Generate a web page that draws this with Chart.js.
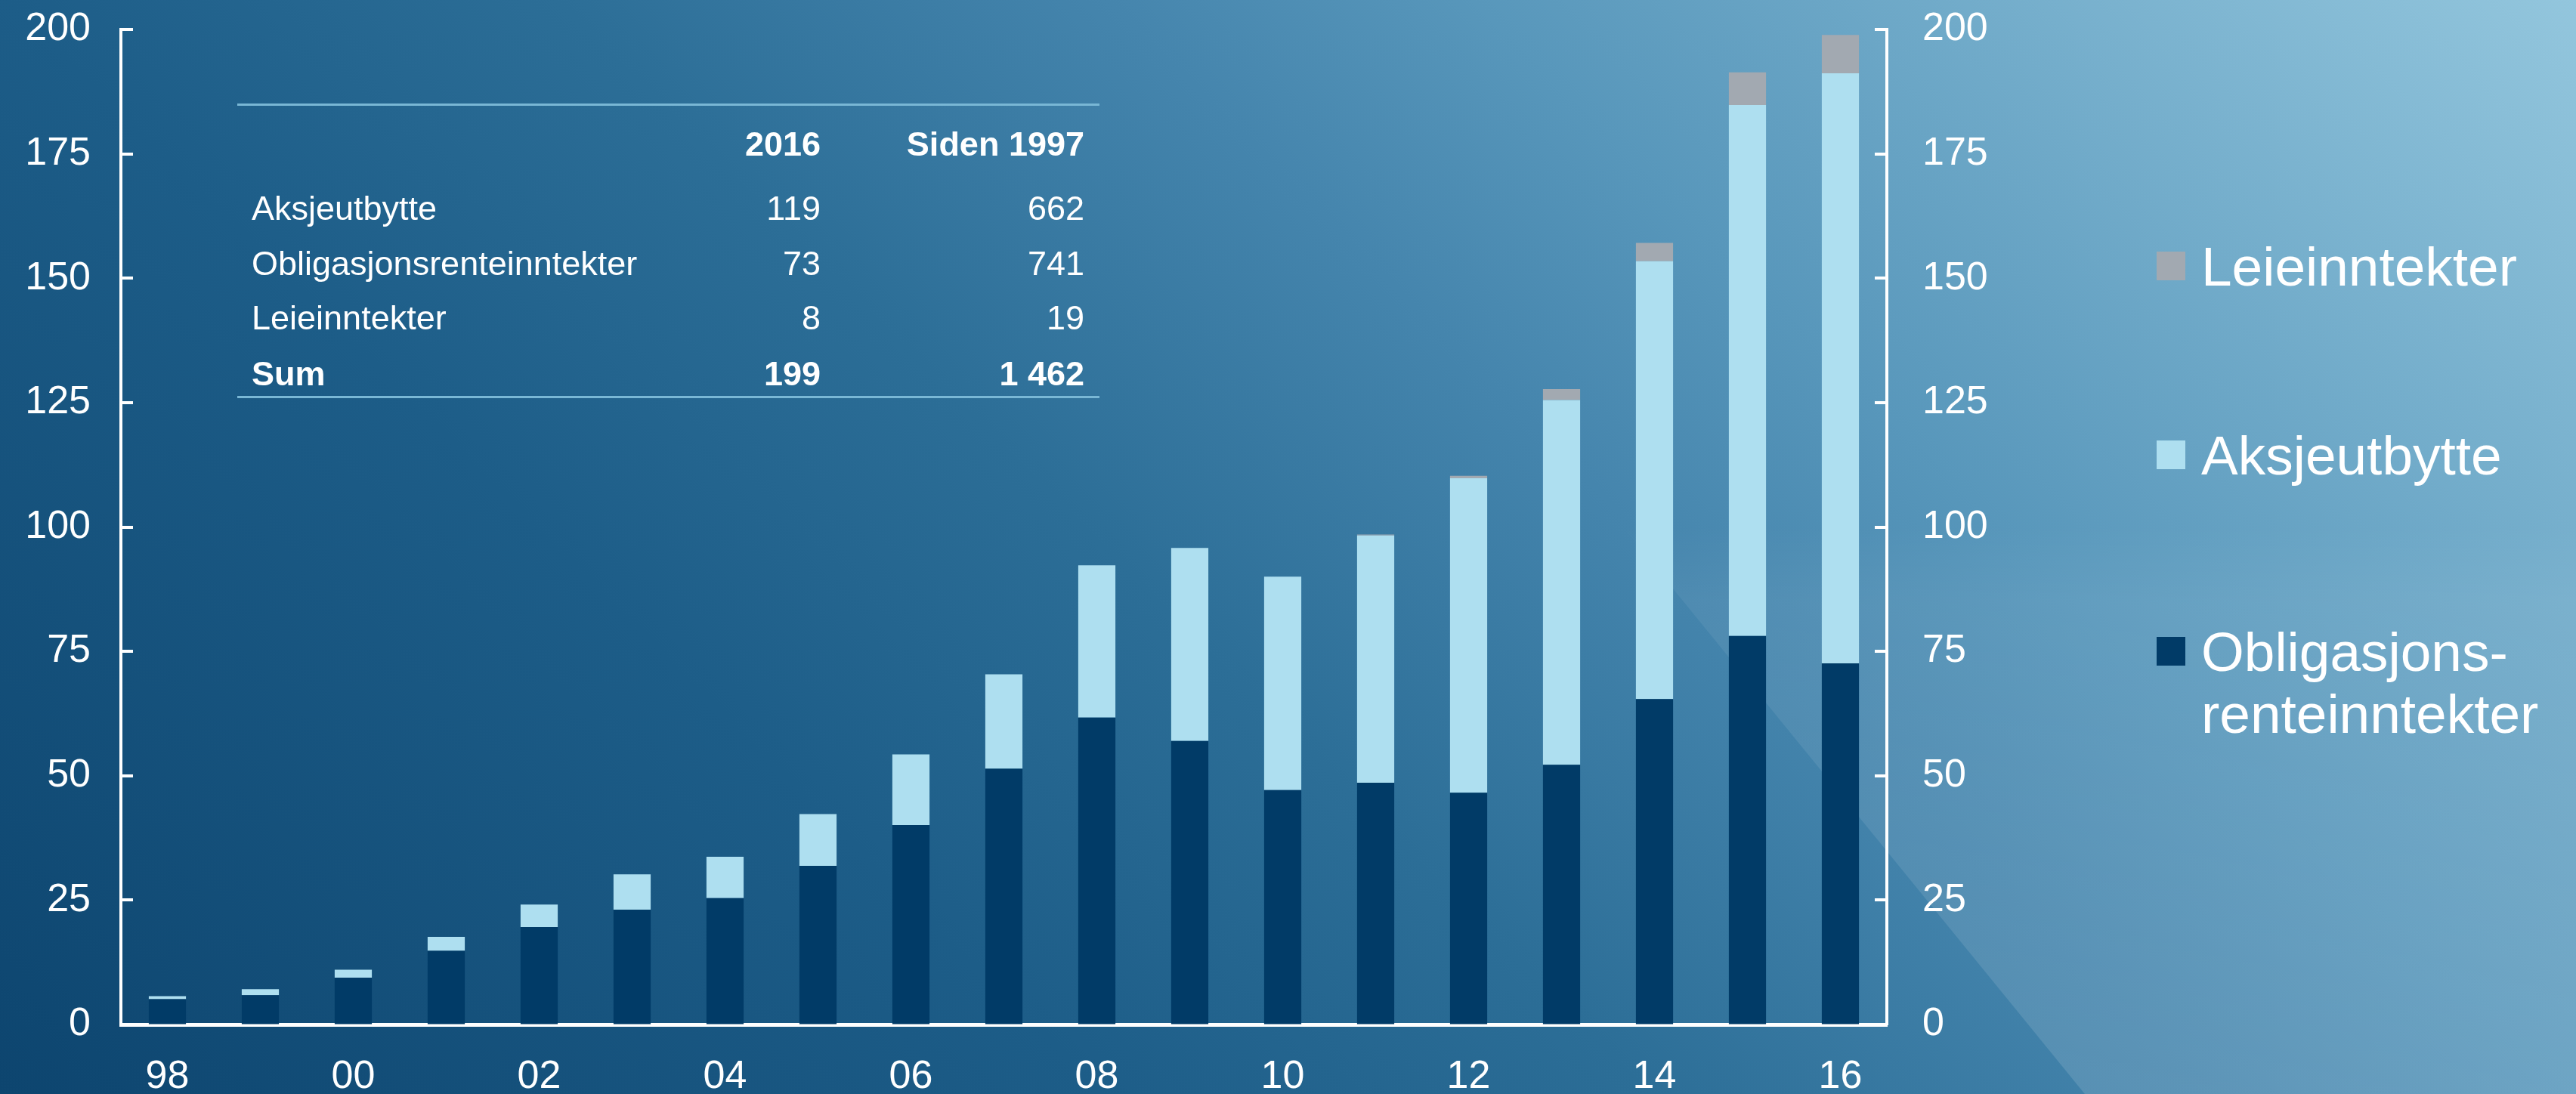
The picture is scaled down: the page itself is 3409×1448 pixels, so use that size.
<!DOCTYPE html>
<html>
<head>
<meta charset="utf-8">
<script src="https://cdn.jsdelivr.net/npm/chart.js@4.4.0/dist/chart.umd.min.js"></script>
<style>
  html, body { margin: 0; padding: 0; }
  body { width: 3409px; height: 1448px; overflow: hidden; font-family: 'Liberation Sans', Arial, sans-serif; color: #fff; }
  #wrap { position: relative; width: 3409px; height: 1448px; }
  #bg { position: absolute; left: 0; top: 0; width: 3409px; height: 1448px;
        background: linear-gradient(45deg, #0d456f 0%, #1d5d88 30%, #2c6e97 45%, #4585ad 60%, #5897bb 70%, #93c6dd 100%); }
  #shade { position: absolute; left: 0; top: 0; width: 3409px; height: 1448px;
           clip-path: polygon(1579px 0, 3409px 0, 3409px 1448px, 2759px 1448px);
           background: linear-gradient(to bottom, rgba(255,255,255,0) 0%, rgba(255,255,255,0) 48%, rgba(255,255,255,0.06) 55%, rgba(255,255,255,0.13) 100%); }
  #chart { position: absolute; left: 0; top: 0; }
  .txt { position: absolute; white-space: nowrap; line-height: 1.15; }
  .rule { position: absolute; height: 0; border-top: 3px solid #79b7d5; }
  .sq { position: absolute; width: 38px; height: 38px; }
</style>
</head>
<body>
<div id="wrap">
  <div id="bg"></div>
  <div id="shade"></div>
  <canvas id="chart" width="3409" height="1448"></canvas>
  <div id="overlay"></div>
</div>
<script>
// år (1998-2016), mrd. kroner
const years = ['98', '99', '00', '01', '02', '03', '04', '05', '06', '07',
               '08', '09', '10', '11', '12', '13', '14', '15', '16'];
const obligasjon = [5.1, 5.9, 9.4, 14.8, 19.6, 23.1, 25.4, 31.9, 40.1, 51.4,
                    61.7, 57.0, 47.1, 48.6, 46.6, 52.2, 65.4, 78.1, 72.6];
const aksje = [0.6, 1.2, 1.6, 2.8, 4.5, 7.1, 8.3, 10.4, 14.2, 19.0,
               30.6, 38.8, 42.9, 49.7, 63.2, 73.3, 88.0, 106.7, 118.6];
const leie = [0, 0, 0, 0, 0, 0, 0, 0, 0, 0,
              0, 0, 0, 0.2, 0.5, 2.2, 3.7, 6.6, 7.7];
const yTicks = [0, 25, 50, 75, 100, 125, 150, 175, 200];

const seriesNames = ['Obligasjonsrenteinntekter', 'Aksjeutbytte', 'Leieinntekter'];
const legendNames = ['Obligasjons-\nrenteinntekter', 'Aksjeutbytte', 'Leieinntekter'];
const seriesColors = ['#013b67', '#aedff0', '#a2a9b1'];

// tabell
const tableHead = ['', '2016', 'Siden 1997'];
const tableLabels = ['Aksjeutbytte', 'Obligasjonsrenteinntekter', 'Leieinntekter', 'Sum'];
const table2016 = ['119', '73', '8', '199'];
const tableSince = ['662', '741', '19', '1 462'];

const FONT = "'Liberation Sans', Arial, sans-serif";

// små innovervendte tick-streker på begge y-aksene
const innerTicks = {
  id: 'innerTicks',
  afterDraw(chart) {
    const ctx = chart.ctx;
    ctx.save();
    ctx.strokeStyle = '#fff';
    ctx.lineWidth = 4;
    ['y', 'y2'].forEach(id => {
      const s = chart.scales[id];
      s.ticks.forEach(t => {
        const py = Math.round(s.getPixelForValue(t.value));
        const x0 = id === 'y' ? s.right : s.left;
        const x1 = id === 'y' ? s.right + 16 : s.left - 16;
        ctx.beginPath();
        ctx.moveTo(x0, py);
        ctx.lineTo(x1, py);
        ctx.stroke();
      });
    });
    ctx.restore();
  }
};

const yAxis = (pos, width, pad) => ({
  position: pos,
  stacked: true,
  min: 0,
  max: 200,
  afterBuildTicks: s => { s.ticks = yTicks.map(v => ({ value: v })); },
  afterFit: s => { s.width = width; s.paddingTop = 0; s.paddingBottom = 0; },
  grid: { drawOnChartArea: false, drawTicks: false, color: 'rgba(0,0,0,0)' },
  border: { color: '#fff', width: 4 },
  ticks: { color: '#fff', padding: pad, font: { family: FONT, size: 52 } }
});

const chart = new Chart(document.getElementById('chart'), {
  type: 'bar',
  data: {
    labels: years,
    datasets: [
      { label: seriesNames[0], data: obligasjon, backgroundColor: seriesColors[0], yAxisID: 'y' },
      { label: seriesNames[1], data: aksje, backgroundColor: seriesColors[1], yAxisID: 'y' },
      { label: seriesNames[2], data: leie, backgroundColor: seriesColors[2], yAxisID: 'y' }
    ]
  },
  options: {
    responsive: false,
    animation: false,
    barPercentage: 0.4,
    categoryPercentage: 1.0,
    layout: { padding: { top: 39, right: 762, left: 0, bottom: 0 } },
    plugins: { legend: { display: false }, tooltip: { enabled: false } },
    scales: {
      x: {
        stacked: true,
        offset: true,
        afterFit: s => { s.height = 92; },
        grid: { drawOnChartArea: false, drawTicks: false, color: 'rgba(0,0,0,0)' },
        border: { color: '#fff', width: 5 },
        ticks: {
          color: '#fff', padding: 38, autoSkip: false, maxRotation: 0,
          font: { family: FONT, size: 52 },
          callback: (v, i) => (i % 2 === 0 ? years[i] : '')
        }
      },
      y: yAxis('left', 160, 40),
      y2: Object.assign(yAxis('right', 150, 47), { stacked: false })
    }
  },
  plugins: [innerTicks]
});

// tekst-overlegg: tabell og forklaring
const overlay = document.getElementById('overlay');
function addText(str, capY, size, opts) {
  const d = document.createElement('div');
  d.className = 'txt';
  d.textContent = str;
  d.style.fontSize = size + 'px';
  d.style.top = (capY - size * 0.564) + 'px';
  if (opts.right !== undefined) { d.style.right = (3409 - opts.right) + 'px'; d.style.textAlign = 'right'; }
  else d.style.left = opts.left + 'px';
  if (opts.bold) d.style.fontWeight = 'bold';
  overlay.appendChild(d);
  return d;
}
function addRule(y, x0, x1) {
  const d = document.createElement('div');
  d.className = 'rule';
  d.style.top = y + 'px';
  d.style.left = x0 + 'px';
  d.style.width = (x1 - x0) + 'px';
  overlay.appendChild(d);
}

addRule(137, 314, 1455);
addRule(524, 314, 1455);
addText(tableHead[1], 190, 45, { right: 1086, bold: true });
addText(tableHead[2], 190, 45, { right: 1435, bold: true });
const rowY = [275, 348, 420, 494];
tableLabels.forEach((lab, i) => {
  const bold = i === tableLabels.length - 1;
  addText(lab, rowY[i], 45, { left: 333, bold });
  addText(table2016[i], rowY[i], 45, { right: 1086, bold });
  addText(tableSince[i], rowY[i], 45, { right: 1435, bold });
});

// forklaring (øverst: Leieinntekter)
const legendY = [862, 602, 352];
chart.data.datasets.forEach((ds, i) => {
  const sq = document.createElement('div');
  sq.className = 'sq';
  sq.style.left = '2854px';
  sq.style.top = (legendY[i] - 19) + 'px';
  sq.style.background = ds.backgroundColor;
  overlay.appendChild(sq);
  legendNames[i].split('\n').forEach((line, k) => {
    addText(line, legendY[i] + k * 82, 73, { left: 2913 });
  });
});
</script>
</body>
</html>
